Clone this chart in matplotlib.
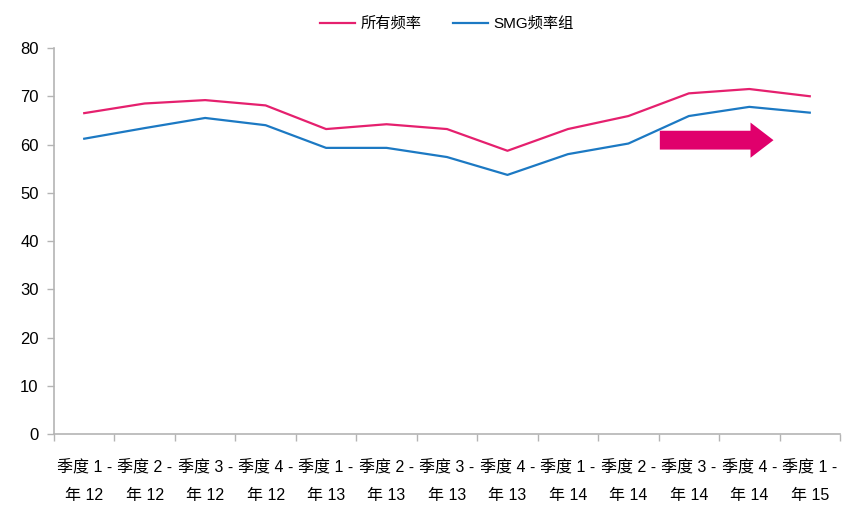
import numpy as np
import matplotlib.pyplot as plt
import matplotlib as mpl
from matplotlib.patches import FancyArrow

mpl.rcParams['font.family'] = ['Liberation Sans', 'Noto Sans CJK SC', 'DejaVu Sans']
mpl.rcParams['font.size'] = 11.5

quarters = ['季度 1 -\n年 12', '季度 2 -\n年 12', '季度 3 -\n年 12', '季度 4 -\n年 12',
            '季度 1 -\n年 13', '季度 2 -\n年 13', '季度 3 -\n年 13', '季度 4 -\n年 13',
            '季度 1 -\n年 14', '季度 2 -\n年 14', '季度 3 -\n年 14', '季度 4 -\n年 14',
            '季度 1 -\n年 15']
all_freq = [66.5, 68.5, 69.2, 68.1, 63.2, 64.2, 63.2, 58.7, 63.2, 65.9, 70.6, 71.5, 70.0]
smg_freq = [61.2, 63.4, 65.5, 64.0, 59.3, 59.3, 57.4, 53.7, 58.0, 60.2, 65.9, 67.8, 66.6]

pink = '#E5206E'
blue = '#1C79C3'
grey = '#B4B4B4'

fig = plt.figure(figsize=(8.56, 5.09), dpi=100)
ax = fig.add_axes([54/856, 1-434/509, (840-54)/856, (434-48)/509])

x = np.arange(len(quarters))
ax.plot(x, all_freq, color=pink, lw=1.6, label='所有频率')
ax.plot(x, smg_freq, color=blue, lw=1.6, label='SMG频率组')

ax.set_xlim(-0.5, len(quarters) - 0.5)
ax.set_ylim(0, 80)
ax.set_yticks(range(0, 81, 10))
ax.set_xticks(x)
ax.set_xticklabels(quarters, linespacing=2.0)
ax.set_xticks(np.arange(-0.5, len(quarters), 1), minor=True)
ax.tick_params(axis='x', which='major', length=0, pad=19)
ax.tick_params(axis='x', which='minor', length=5, color=grey, width=1)
ax.tick_params(axis='y', length=5, color=grey, width=1, pad=6, labelsize=12)

for s in ['top', 'right']:
    ax.spines[s].set_visible(False)
for s in ['left', 'bottom']:
    ax.spines[s].set_color(grey)
    ax.spines[s].set_linewidth(1.2)

# trend arrow
ax.add_patch(FancyArrow(9.52, 60.9, 1.5, 0, width=3.9, head_width=7.3,
                        head_length=0.38, length_includes_head=False,
                        color='#E0006C', lw=0))

ax.legend(loc='lower center', bbox_to_anchor=(0.5, 1.0), ncol=2, frameon=False,
          fontsize=11, handlelength=2.3, columnspacing=2.0, handletextpad=0.4,
          borderaxespad=0.7)

fig.savefig('out.png', dpi=100)
